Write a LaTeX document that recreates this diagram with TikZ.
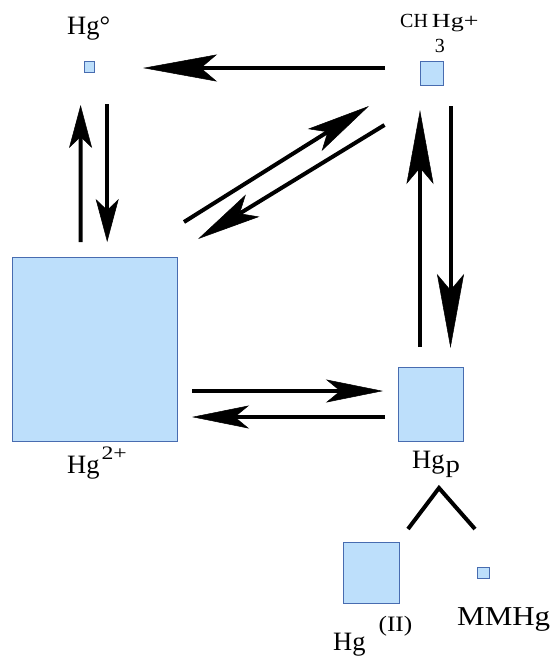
\documentclass[tikz,border=0pt]{standalone}
\usepackage{fontspec}
\setmainfont{Liberation Serif}
\usetikzlibrary{arrows.meta}
\definecolor{boxfill}{RGB}{189,223,251}
\definecolor{boxline}{RGB}{72,108,176}
\begin{document}
\begin{tikzpicture}[x=1pt,y=-1pt,
  pool/.style 2 args={draw=boxline,fill=boxfill,line width=1pt,inner sep=0pt,outer sep=0pt,minimum width=#1,minimum height=#2},
  lab/.style={font=\fontsize{26.5}{30}\selectfont,inner sep=0pt,anchor=base west},
  flux/.style={line width=4pt},
  longhead/.style={flux,-{Stealth[length=74pt,width=27pt,inset=16pt,line width=0.5pt]}},
  diaghead/.style={flux,-{Stealth[length=64pt,width=26pt,inset=15pt,line width=0.5pt]}},
  midhead/.style={flux,-{Stealth[length=57pt,width=23pt,inset=14pt,line width=0.5pt]}},
  shorthead/.style={flux,-{Stealth[length=43pt,width=23pt,inset=11pt,line width=0.5pt]}},
  caret/.style={line width=4pt,line join=miter}]
\useasboundingbox (0,0) rectangle (554,659);
% pools
\node[pool={10pt}{11pt}] (hg0) at (89,66.5) {};
\node[pool={23pt}{24pt}] (ch) at (431.5,73) {};
\node[pool={165pt}{184pt}] (hg2) at (94.5,349) {};
\node[pool={65pt}{74pt}] (hgp) at (430.5,404) {};
\node[pool={56pt}{61pt}] (hgii) at (371,572.5) {};
\node[pool={12pt}{11pt}] (mmhg) at (483,572.5) {};
% labels
\node[lab] (hg0lab) at (67,34) {Hg°};
\node[lab,font=\fontsize{20}{22}\selectfont] (chlab) at (400,27) {CH\hspace{4pt}\makebox[0pt][l]{\hspace{3pt}\raisebox{-25pt}{3}}\scalebox{1.3}[1]{Hg+}};
\node[lab] (hg2lab) at (67,473) {Hg{\fontsize{19}{19}\selectfont\raisebox{14pt}{\hspace{2pt}\scalebox{1.25}[1]{2+}}}};
\node[lab] (hgplab) at (412,468) {Hg{\fontsize{24}{24}\selectfont\raisebox{-4pt}{\hspace{1pt}\scalebox{1.2}[1]{p}}}};
\node[lab] (hgiilab) at (333,650) {Hg\hspace{13pt}{\fontsize{22}{22}\selectfont\raisebox{19pt}{\scalebox{1.15}[1]{(II)}}}};
\node[lab] (mmhglab) at (457,625) {\scalebox{1.17}[1.03]{MMHg}};
% fluxes
\draw[longhead] ([shift={(-35,-5)}]ch.west) -- ([shift={(49,1.5)}]hg0.east);
\draw[shorthead] ([shift={(-14,-15)}]hg2.north) -- ([shift={(-8.4,33)}]hg0.south);
\draw[shorthead] ([shift={(18.2,32)}]hg0.south) -- ([shift={(12.7,-15)}]hg2.north);
\draw[diaghead] ([shift={(7,-35)}]hg2.north east) -- ([shift={(-51,21)}]ch.south west);
\draw[diaghead] ([shift={(-35.5,40)}]ch.south west) -- ([shift={(21,-18)}]hg2.north east);
\draw[longhead] ([shift={(-10.5,-20)}]hgp.north) -- ([shift={(-11.5,25)}]ch.south);
\draw[longhead] ([shift={(19,21)}]ch.south) -- ([shift={(20,-19)}]hgp.north);
\draw[midhead] ([shift={(15,42)}]hg2.east) -- ([shift={(-15,-13)}]hgp.west);
\draw[midhead] ([shift={(-13,13)}]hgp.west) -- ([shift={(15,68)}]hg2.east);
% split of particulate mercury
\coordinate (apex) at ([shift={(8.5,47)}]hgp.south);
\coordinate (splitL) at ([shift={(9,-13)}]hgii.north east);
\coordinate (splitR) at ([shift={(-8,-38)}]mmhg.north);
\draw[caret] (splitL) -- (apex) -- (splitR);
\end{tikzpicture}
\end{document}
